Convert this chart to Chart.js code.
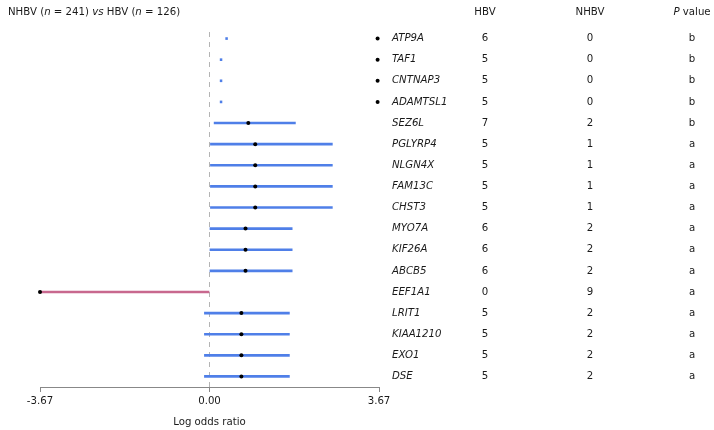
<!DOCTYPE html>
<html>
<head>
<meta charset="utf-8">
<script src="https://cdn.jsdelivr.net/npm/chart.js@4"></script>
<style>
  body { margin: 0; background: #fff; }
  #wrap { width: 714px; height: 430px; position: relative; }
</style>
</head>
<body>
<div id="wrap"><canvas id="forest" width="714" height="430"></canvas></div>
<script>
// Forest plot data
const genes = ["ATP9A", "TAF1", "CNTNAP3", "ADAMTSL1", "SEZ6L", "PGLYRP4", "NLGN4X", "FAM13C",
    "CHST3", "MYO7A", "KIF26A", "ABCB5", "EEF1A1", "LRIT1", "KIAA1210", "EXO1", "DSE"];
const ciLow = [0.35, 0.23, 0.23, 0.23, 0.10, 0.02, 0.02, 0.02, 0.02, 0.01, 0.01, 0.01, -3.67, -0.11, -0.11, -0.11, -0.11];
const ciHigh = [0.39, 0.27, 0.27, 0.27, 1.86, 2.66, 2.66, 2.66, 2.66, 1.79, 1.79, 1.79, 0, 1.73, 1.73, 1.73, 1.73];
const estimate = [3.64, 3.64, 3.64, 3.64, 0.84, 0.99, 0.99, 0.99, 0.99, 0.78, 0.78, 0.78, -3.67, 0.69, 0.69, 0.69, 0.69];
const hbvCount = [6, 5, 5, 5, 7, 5, 5, 5, 5, 6, 6, 6, 0, 5, 5, 5, 5];
const nhbvCount = [0, 0, 0, 0, 2, 1, 1, 1, 1, 2, 2, 2, 9, 2, 2, 2, 2];
const pValue = ["b", "b", "b", "b", "b", "a", "a", "a", "a", "a", "a", "a", "a", "a", "a", "a", "a"];
const xTicks = [-3.67, 0, 3.67];

const FONT = "DejaVu Sans";
const FSIZE = 10.2;
const TEXT = "#1a1a1a";

// draw text made of normal/italic pieces
function drawMixed(ctx, parts, x, y, align) {
    let total = 0;
    parts.forEach(p => {
        ctx.font = (p[1] ? "italic " : "") + FSIZE + "px '" + FONT + "'";
        total += ctx.measureText(p[0]).width;
    });
    let cx = align === "center" ? x - total / 2 : x;
    ctx.textAlign = "left";
    parts.forEach(p => {
        ctx.font = (p[1] ? "italic " : "") + FSIZE + "px '" + FONT + "'";
        ctx.fillText(p[0], cx, y);
        cx += ctx.measureText(p[0]).width;
    });
}

const tablePlugin = {
    id: "table",
    beforeDatasetsDraw(chart) {
        // dashed line at zero
        const ctx = chart.ctx;
        const x0 = chart.scales.x.getPixelForValue(0);
        ctx.save();
        ctx.strokeStyle = "#b4b4b4";
        ctx.lineWidth = 1;
        ctx.setLineDash([5, 5]);
        ctx.beginPath();
        ctx.moveTo(x0, chart.chartArea.top + 4);
        ctx.lineTo(x0, chart.chartArea.bottom);
        ctx.stroke();
        ctx.restore();
    },
    afterDraw(chart) {
        const ctx = chart.ctx;
        const y = chart.scales.y;
        ctx.save();
        ctx.fillStyle = TEXT;
        ctx.textBaseline = "middle";
        drawMixed(ctx, [["NHBV (", false], ["n", true], [" = 241) ", false], ["vs", true],
            [" HBV (", false], ["n", true], [" = 126)", false]], 8, 12, "left");
        drawMixed(ctx, [["HBV", false]], 485, 12, "center");
        drawMixed(ctx, [["NHBV", false]], 590, 12, "center");
        drawMixed(ctx, [["P", true], [" value", false]], 692, 12, "center");
        genes.forEach((g, i) => {
            const py = y.getPixelForValue(i);
            drawMixed(ctx, [[g, true]], 392, py, "left");
            drawMixed(ctx, [[String(hbvCount[i]), false]], 485, py, "center");
            drawMixed(ctx, [[String(nhbvCount[i]), false]], 590, py, "center");
            drawMixed(ctx, [[pValue[i], false]], 692, py, "center");
        });
        ctx.restore();
    }
};

const ctx = document.getElementById("forest").getContext("2d");
const forestChart = new Chart(ctx, {
    type: "bar",
    data: {
        labels: genes,
        datasets: [
            {
                label: "CI",
                data: genes.map((g, i) => [ciLow[i], ciHigh[i]]),
                backgroundColor: estimate.map(v => v < 0 ? "#c8688e" : "#4f7fe8"),
                barThickness: 2,
                order: 2
            },
            {
                type: "scatter",
                label: "Estimate",
                data: genes.map((g, i) => ({ x: estimate[i], y: g })),
                pointRadius: 2,
                pointBackgroundColor: "#000",
                pointBorderWidth: 0,
                clip: false,
                order: 1
            }
        ]
    },
    options: {
        indexAxis: "y",
        responsive: false,
        animation: false,
        layout: { padding: { left: 40, right: 335, top: 28, bottom: 0 } },
        plugins: { legend: { display: false }, tooltip: { enabled: false } },
        scales: {
            y: { type: "category", display: false, offset: true },
            x: {
                type: "linear",
                min: -3.67,
                max: 3.67,
                afterBuildTicks: s => { s.ticks = xTicks.map(v => ({ value: v })); },
                afterFit: s => { s.height = 43; },
                border: { color: "#888", width: 1 },
                grid: { drawOnChartArea: false, drawTicks: true, tickLength: 5, color: "#888" },
                ticks: {
                    color: TEXT,
                    font: { family: FONT, size: FSIZE },
                    padding: 3,
                    maxRotation: 0,
                    callback: v => v.toFixed(2)
                },
                title: {
                    display: true,
                    text: "Log odds ratio",
                    color: TEXT,
                    font: { family: FONT, size: FSIZE },
                    padding: { top: 0, bottom: 2 }
                }
            }
        }
    },
    plugins: [tablePlugin]
});
</script>
</body>
</html>
